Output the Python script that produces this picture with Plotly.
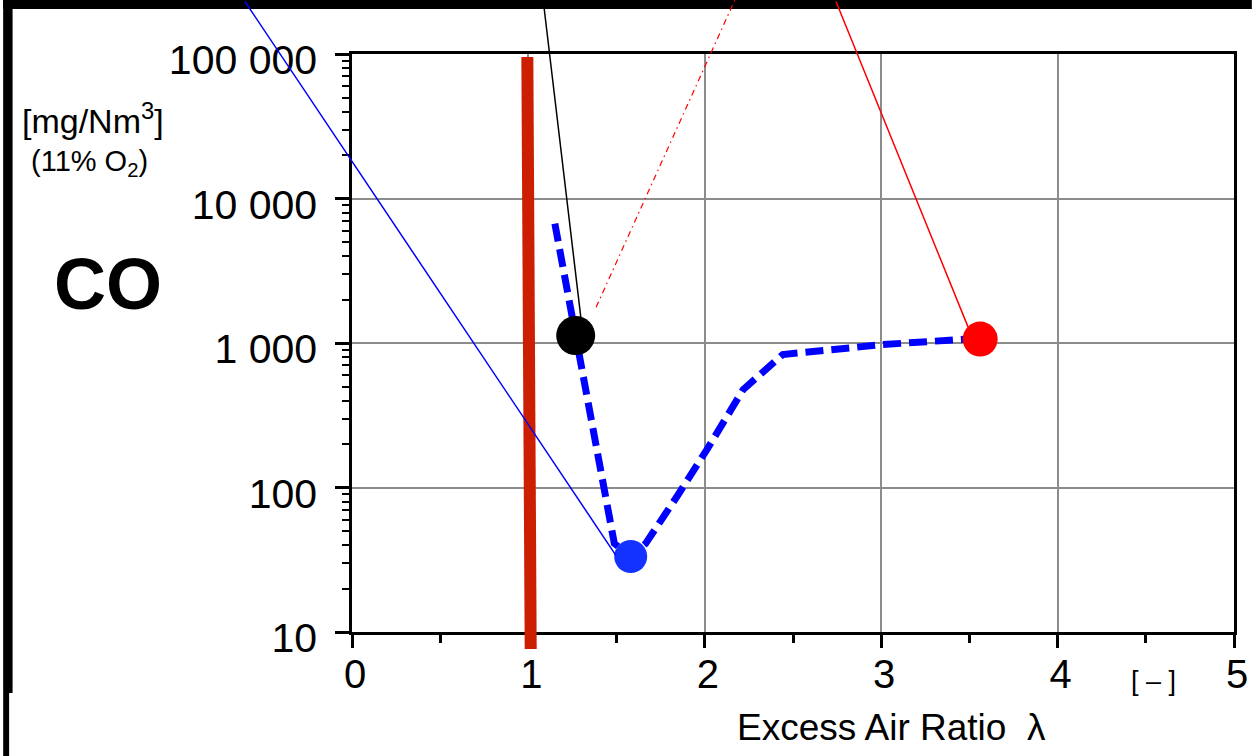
import math
import plotly.graph_objects as go

# ---------------- data ----------------
curve_lambda = [1.150, 1.487, 1.580, 1.665, 1.843, 2.011, 2.217, 2.442, 3.004, 3.656]
curve_co = [6700, 41, 33.3, 41, 87, 182, 475, 832, 974, 1100]

black_point_lambda = [1.268]
black_point_co = [1125]
blue_point_lambda = [1.580]
blue_point_co = [33.3]
red_point_lambda = [3.561]
red_point_co = [1064]

stoich_lambda = [0.994, 1.013]   # top, bottom of the thick red line (lambda = 1)

leader_lambda = [1.494, 1.298, 3.492]
leader_co = [34.2, 1476, 1293]
leader_colors = ["#0000ff", "#000000", "#ff0000"]

y_tickvals = [10, 100, 1000, 10000, 100000]
y_ticktext = ["10", "100", "1 000", "10 000", "100 000"]
x_tickvals = [0, 1, 2, 3, 4, 5]
x_ticktext = ["0", "1", "2", "3", "4", "5"]

# ---------------- layout geometry ----------------
W, H = 1260, 756
ML, MR, MT, MB = 352, 18, 54, 124
PW, PH = W - ML - MR, H - MT - MB


def PX(px):
    return (px - ML) / PW


def PY(py):
    return (H - MB - py) / PH


FONT = "Liberation Sans, Arial, Helvetica, sans-serif"

fig = go.Figure()

fig.add_trace(go.Scatter(
    x=curve_lambda, y=curve_co, mode="lines",
    line=dict(color="#0000ff", width=7, dash="18px,8px"),
    showlegend=False, hoverinfo="skip"))

fig.add_trace(go.Scatter(
    x=blue_point_lambda, y=blue_point_co, mode="markers",
    marker=dict(color="#1432ff", size=33, line=dict(width=0)),
    showlegend=False, cliponaxis=False))
fig.add_trace(go.Scatter(
    x=black_point_lambda, y=black_point_co, mode="markers",
    marker=dict(color="#000000", size=39, line=dict(width=0)),
    showlegend=False, cliponaxis=False))
fig.add_trace(go.Scatter(
    x=red_point_lambda, y=red_point_co, mode="markers",
    marker=dict(color="#ff0000", size=35, line=dict(width=0)),
    showlegend=False, cliponaxis=False))

shapes = [
    # screenshot black borders
    dict(type="rect", xref="paper", yref="paper", x0=PX(0), x1=PX(W), y0=PY(9), y1=PY(0),
         fillcolor="black", line=dict(width=0), layer="above"),
    dict(type="rect", xref="paper", yref="paper", x0=PX(0), x1=PX(9.5), y0=PY(693), y1=PY(0),
         fillcolor="black", line=dict(width=0), layer="above"),
    dict(type="rect", xref="paper", yref="paper", x0=PX(0), x1=PX(6), y0=PY(H), y1=PY(693),
         fillcolor="black", line=dict(width=0), layer="above"),
    # thick red stoichiometric line at lambda = 1
    dict(type="line", xref="x", yref="paper", x0=stoich_lambda[0], x1=stoich_lambda[1],
         y0=PY(57), y1=PY(649), line=dict(color="#cc1e00", width=12), layer="above"),
    # red dash-dot leader line
    dict(type="line", xref="paper", yref="paper", x0=PX(598.3), y0=PY(307.3),
         x1=PX(738.3), y1=PY(0), line=dict(color="#ff0000", width=1.2, dash="6px,4px,1.5px,4px"),
         layer="above"),
]

tails = [(246.7, 0.0), (545.5, 0.0), (841.7, 0.0)]
heads_px = [(618.3, 555.0), (583.3, 319.0), (974.3, 327.3)]
annotations = []
for i in range(3):
    hx, hy = heads_px[i]
    tx, ty = tails[i]
    annotations.append(dict(
        x=leader_lambda[i], y=math.log10(leader_co[i]), xref="x", yref="y",
        ax=tx - hx, ay=ty - hy, axref="pixel", ayref="pixel",
        text="", showarrow=True, arrowhead=0, arrowwidth=1.5,
        arrowcolor=leader_colors[i], standoff=0, startstandoff=0))

annotations += [
    dict(text="<b>CO</b>", x=PX(105.5), y=PY(284), xref="paper", yref="paper",
         showarrow=False, font=dict(family=FONT, size=72, color="black"),
         xanchor="center", yanchor="middle"),
    dict(text="[mg/Nm<sup>3</sup>]", x=PX(91), y=PY(118), xref="paper", yref="paper",
         showarrow=False, font=dict(family=FONT, size=34, color="black"),
         xanchor="center", yanchor="middle"),
    dict(text="(11% O<sub>2</sub>)", x=PX(87), y=PY(163), xref="paper", yref="paper",
         showarrow=False, font=dict(family=FONT, size=29, color="black"),
         xanchor="center", yanchor="middle"),
    dict(text="Excess Air Ratio\u00a0\u00a0λ", x=PX(896.5), y=PY(728), xref="paper", yref="paper",
         showarrow=False, font=dict(family=FONT, size=37, color="black"),
         xanchor="center", yanchor="middle"),
    dict(text="[ – ]", x=PX(1161), y=PY(681), xref="paper", yref="paper",
         showarrow=False, font=dict(family=FONT, size=27, color="black"),
         xanchor="center", yanchor="middle"),
]

fig.update_layout(
    width=W, height=H,
    margin=dict(l=ML, r=MR, t=MT, b=MB, pad=0),
    paper_bgcolor="white", plot_bgcolor="white",
    showlegend=False,
    shapes=shapes, annotations=annotations,
    font=dict(family=FONT, color="black"),
)

fig.update_xaxes(
    range=[0, 5], tickmode="array", tickvals=x_tickvals, ticktext=x_ticktext,
    ticks="outside", ticklen=13, tickwidth=2.5, tickcolor="black",
    showline=True, linewidth=2.5, linecolor="black", mirror=True,
    showgrid=True, gridcolor="#8c8c8c", gridwidth=2, zeroline=False,
    tickfont=dict(family=FONT, size=40, color="black"),
    ticklabelstandoff=-8, ticklabelshift=3,
    minor=dict(tickmode="array", tickvals=[0.5, 1.5, 2.5, 3.5, 4.5], ticks="outside",
               ticklen=8, tickwidth=2.5, tickcolor="black", showgrid=False),
)
fig.update_yaxes(
    type="log", range=[1, 5], tickmode="array", tickvals=y_tickvals, ticktext=y_ticktext,
    ticks="outside", ticklen=14, tickwidth=2.5, tickcolor="black",
    showline=True, linewidth=2.5, linecolor="black", mirror=True,
    showgrid=True, gridcolor="#8c8c8c", gridwidth=2, zeroline=False,
    tickfont=dict(family=FONT, size=41, color="black"),
    ticklabelstandoff=10, ticklabelshift=6,
    minor=dict(dtick="D1", ticks="outside", ticklen=7, tickwidth=2, tickcolor="black",
               showgrid=False),
)

fig.write_html("out.html")
